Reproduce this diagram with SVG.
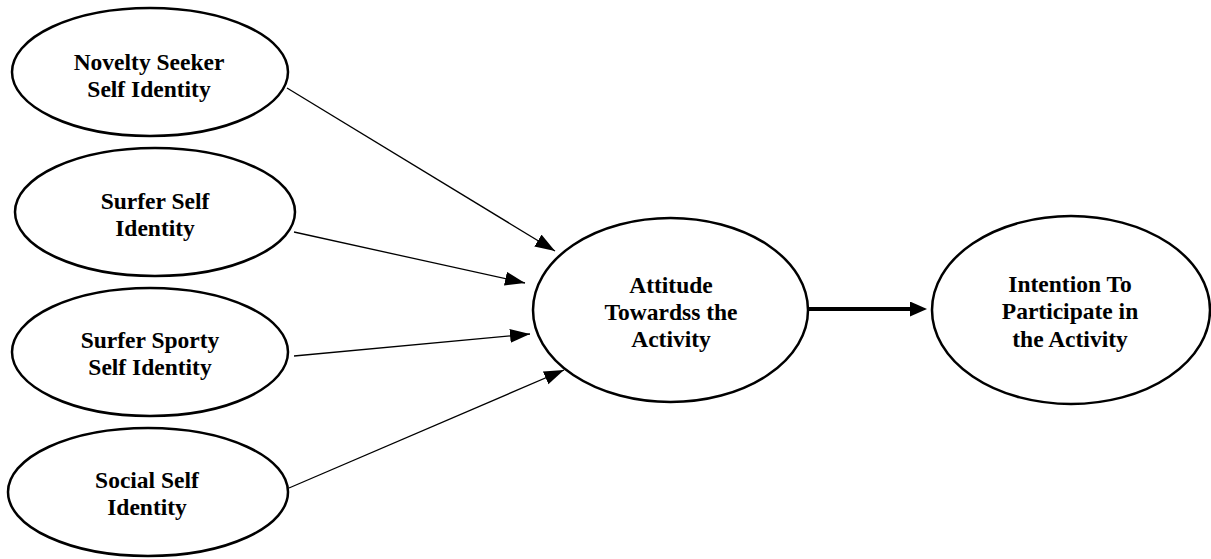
<svg xmlns="http://www.w3.org/2000/svg" width="1211" height="559" viewBox="0 0 1211 559">
<style>
.node ellipse{fill:#fff;stroke:#000;stroke-width:2.5}
.node text{font-family:"Liberation Serif","Times New Roman",serif;font-weight:bold;font-size:23.5px;fill:#000;text-anchor:middle}
.thin{stroke:#000;stroke-width:1.3;fill:none;marker-end:url(#ah)}
.thick{stroke:#000;stroke-width:4;fill:none;marker-end:url(#ahb)}
</style>
<defs>
<marker id="ah" markerUnits="userSpaceOnUse" markerWidth="22" markerHeight="16" refX="20" refY="7" orient="auto" viewBox="0 0 22 16">
<path d="M0,0 L20,7 L0,14 z" fill="#000"/>
</marker>
<marker id="ahb" markerUnits="userSpaceOnUse" markerWidth="20" markerHeight="16" refX="2" refY="7.5" orient="auto" viewBox="0 0 20 16">
<path d="M0,0 L17,7.5 L0,15 z" fill="#000"/>
</marker>
</defs>
<rect width="1211" height="559" fill="#fff"/>
<g id="connectors">
<line class="thin" x1="287" y1="88" x2="555" y2="251"/>
<line class="thin" x1="294" y1="232" x2="525" y2="283"/>
<line class="thin" x1="294" y1="356" x2="530" y2="334"/>
<line class="thin" x1="289" y1="488" x2="564" y2="370"/>
<line class="thick" x1="808" y1="309" x2="912" y2="309"/>
</g>
<g id="node-novelty" class="node">
<ellipse cx="150" cy="72" rx="138" ry="64"/>
<text x="149" y="70">Novelty Seeker</text>
<text x="149" y="97">Self Identity</text>
</g>
<g id="node-surfer" class="node">
<ellipse cx="155" cy="212" rx="140" ry="64"/>
<text x="155" y="209">Surfer Self</text>
<text x="155" y="236">Identity</text>
</g>
<g id="node-sporty" class="node">
<ellipse cx="150" cy="352" rx="138" ry="64"/>
<text x="150" y="348">Surfer Sporty</text>
<text x="150" y="375">Self Identity</text>
</g>
<g id="node-social" class="node">
<ellipse cx="148" cy="492" rx="140" ry="64"/>
<text x="147" y="488">Social Self</text>
<text x="147" y="515">Identity</text>
</g>
<g id="node-attitude" class="node">
<ellipse cx="670.5" cy="310" rx="137.5" ry="92"/>
<text x="671" y="293">Attitude</text>
<text x="671" y="320">Towardss the</text>
<text x="671" y="347">Activity</text>
</g>
<g id="node-intention" class="node">
<ellipse cx="1071" cy="310" rx="139" ry="94"/>
<text x="1070" y="292">Intention To</text>
<text x="1070" y="319">Participate in</text>
<text x="1070" y="347">the Activity</text>
</g>
</svg>
